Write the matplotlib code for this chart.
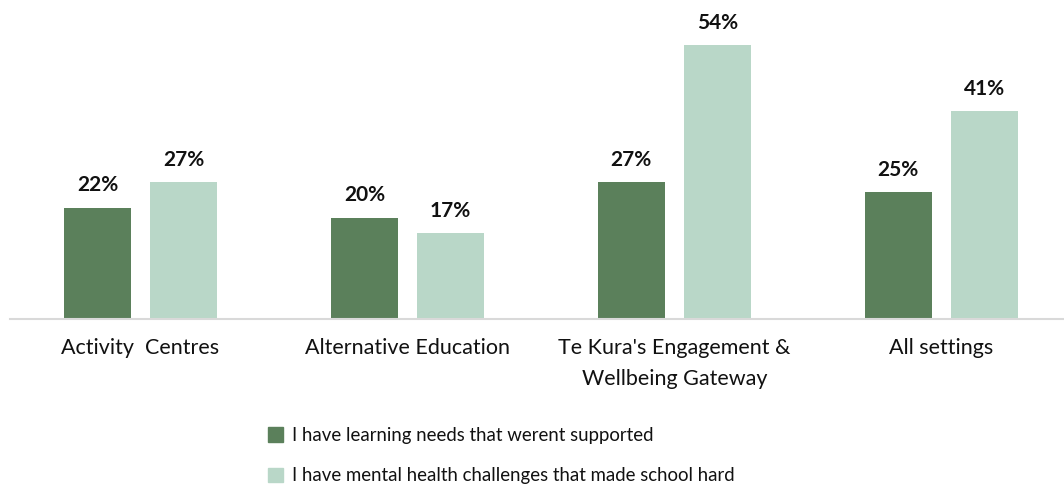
import matplotlib.pyplot as plt
import numpy as np
from matplotlib.patches import Patch

plt.rcParams["font.family"] = ["Lato", "DejaVu Sans"]

categories = ["Activity  Centres", "Alternative Education",
              "Te Kura's Engagement &\nWellbeing Gateway", "All settings"]
learning = [22, 20, 27, 25]
mental = [27, 17, 54, 41]
series_names = ["I have learning needs that werent supported",
                "I have mental health challenges that made school hard"]

dark = "#5B805B"
light = "#B9D7C8"

fig = plt.figure(figsize=(10.64, 4.9), dpi=100)
ax = fig.add_axes([10 / 1064, 171 / 490, 1054 / 1064, 304 / 490])

x = np.arange(len(categories))
w = 0.251
off = 0.161
b1 = ax.bar(x - off, learning, w, color=dark)
b2 = ax.bar(x + off, mental, w, color=light)

for bars, vals in ((b1, learning), (b2, mental)):
    for rect, v in zip(bars, vals):
        ax.annotate(f"{v}%", (rect.get_x() + rect.get_width() / 2, v),
                    xytext=(0, 16), textcoords="offset points",
                    ha="center", va="center", fontsize=15,
                    fontweight="bold", color="#111111")

ax.set_xlim(-0.489, 3.46)
ax.set_ylim(0, 60)
ax.set_xticks(x)
ax.set_xticklabels(categories, fontsize=15.5, color="#111111", linespacing=1.65)
ax.tick_params(axis="x", length=0, pad=14)
ax.set_yticks([])
for s in ["top", "right", "left"]:
    ax.spines[s].set_visible(False)
ax.spines["bottom"].set_color("#D9D9D9")
ax.spines["bottom"].set_linewidth(1.5)

handles = [Patch(color=dark), Patch(color=light)]
fig.legend(handles, series_names, loc="upper left",
           bbox_to_anchor=(251 / 1064, 1 - 410 / 490), frameon=False,
           fontsize=13.4, handlelength=0.82, handleheight=0.82,
           handletextpad=0.5, labelspacing=1.27, labelcolor="#111111")

fig.savefig("out.png", dpi=100)
